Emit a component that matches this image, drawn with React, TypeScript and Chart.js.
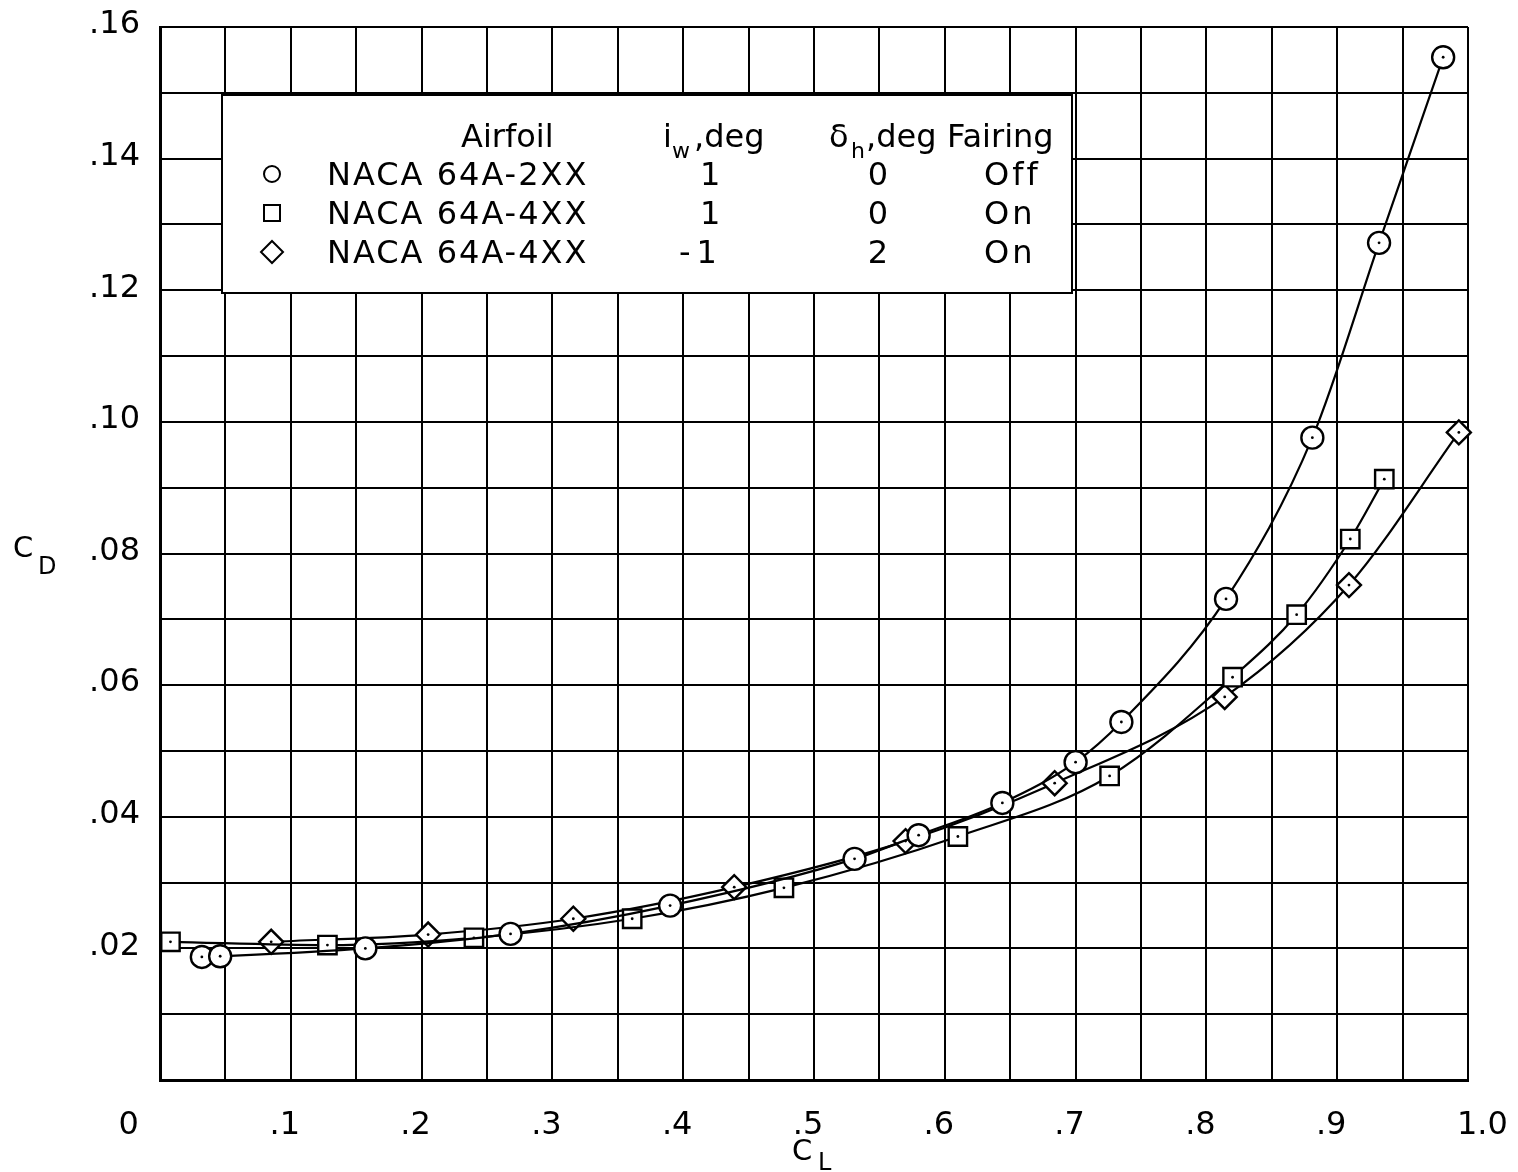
import React, { useEffect, useRef } from 'react';
import { Chart, registerables } from 'chart.js';

Chart.register(...registerables);

const FONT = '"DejaVu Sans", "Liberation Sans", sans-serif';

// NACA 64A-2XX, i_w = 1, delta_h = 0, fairing off (circles)
const circleCL = [0.032, 0.046, 0.157, 0.268, 0.390, 0.531, 0.580, 0.644, 0.700, 0.735, 0.815, 0.881, 0.932, 0.981];
const circleCD = [0.0187, 0.0188, 0.0200, 0.0222, 0.0265, 0.0336, 0.0372, 0.0421, 0.0483, 0.0544, 0.0731, 0.0976, 0.1272, 0.1554];

// NACA 64A-4XX, i_w = 1, delta_h = 0, fairing on (squares)
const squareCL = [0.008, 0.128, 0.240, 0.361, 0.477, 0.610, 0.726, 0.820, 0.869, 0.910, 0.936];
const squareCD = [0.0210, 0.0205, 0.0216, 0.0245, 0.0292, 0.0370, 0.0462, 0.0612, 0.0707, 0.0822, 0.0913];

// NACA 64A-4XX, i_w = -1, delta_h = 2, fairing on (diamonds)
const diamondCL = [0.085, 0.205, 0.316, 0.439, 0.570, 0.684, 0.814, 0.909, 0.993];
const diamondCD = [0.0210, 0.0221, 0.0245, 0.0293, 0.0363, 0.0451, 0.0582, 0.0752, 0.0984];

const legendHeader = ['Airfoil', 'i', 'w', ',deg', 'δ', 'h', ',deg', 'Fairing'];
const legendAirfoils = ['NACA 64A-2XX', 'NACA 64A-4XX', 'NACA 64A-4XX'];
const legendIw = ['1', '1', '-1'];
const legendDh = ['0', '0', '2'];
const legendFairing = ['Off', 'On', 'On'];
const legendMarkers = ['circle', 'rect', 'rectRot'];

const xTitle = ['C', 'L'];
const yTitle = ['C', 'D'];

const toPts = (xs: number[], ys: number[]) => xs.map((x, i) => ({ x, y: ys[i] }));

const overlayPlugin = {
  id: 'overlay',
  afterDraw(chart: any) {
    const ctx: CanvasRenderingContext2D = chart.ctx;
    ctx.save();
    // legend box
    const bx = 222, by = 95, bw = 850, bh = 198;
    ctx.fillStyle = '#fff';
    ctx.fillRect(bx, by, bw, bh);
    ctx.strokeStyle = '#000';
    ctx.lineWidth = 2;
    ctx.strokeRect(bx, by, bw, bh);

    ctx.fillStyle = '#000';
    ctx.textBaseline = 'alphabetic';
    ctx.textAlign = 'left';
    const big = `32px ${FONT}`;
    const small = `22px ${FONT}`;
    // header
    ctx.font = big;
    ctx.fillText(legendHeader[0], 461, 147);
    ctx.fillText(legendHeader[1], 663, 147);
    ctx.font = small;
    ctx.fillText(legendHeader[2], 672, 158);
    ctx.font = big;
    ctx.fillText(legendHeader[3], 694, 147);
    ctx.fillText(legendHeader[4], 829, 147);
    ctx.font = small;
    ctx.fillText(legendHeader[5], 851, 158);
    ctx.font = big;
    ctx.fillText(legendHeader[6], 866, 147);
    ctx.fillText(legendHeader[7], 947, 147);

    const baselines = [185, 224, 263];
    const centers = [174, 213, 252];
    for (let i = 0; i < 3; i++) {
      const b = baselines[i];
      ctx.font = big;
      (ctx as any).letterSpacing = '2px';
      ctx.textAlign = 'left';
      ctx.fillText(legendAirfoils[i], 327, b);
      (ctx as any).letterSpacing = legendIw[i].length > 1 ? '6px' : '0px';
      ctx.fillText(legendIw[i], legendIw[i].length > 1 ? 679 : 700, b);
      (ctx as any).letterSpacing = '0px';
      ctx.textAlign = 'center';
      ctx.fillText(legendDh[i], 878, b);
      ctx.textAlign = 'left';
      (ctx as any).letterSpacing = '3px';
      ctx.fillText(legendFairing[i], 984, b);
      (ctx as any).letterSpacing = '0px';

      // marker
      const cx = 272, cy = centers[i];
      ctx.lineWidth = 2;
      ctx.beginPath();
      if (legendMarkers[i] === 'circle') {
        ctx.arc(cx, cy, 8, 0, Math.PI * 2);
      } else if (legendMarkers[i] === 'rect') {
        ctx.rect(cx - 8, cy - 8, 16, 16);
      } else {
        ctx.moveTo(cx, cy - 11);
        ctx.lineTo(cx + 11, cy);
        ctx.lineTo(cx, cy + 11);
        ctx.lineTo(cx - 11, cy);
        ctx.closePath();
      }
      ctx.stroke();
    }

    // axis titles
    ctx.textAlign = 'left';
    ctx.font = `29px ${FONT}`;
    ctx.fillText(yTitle[0], 13, 557);
    ctx.font = `24px ${FONT}`;
    ctx.fillText(yTitle[1], 38, 574);
    ctx.font = `29px ${FONT}`;
    ctx.fillText(xTitle[0], 792, 1160);
    ctx.font = `24px ${FONT}`;
    ctx.fillText(xTitle[1], 818, 1170);
    ctx.restore();
  },
};

function lineDataset(label: string, xs: number[], ys: number[], style: string, radius: number) {
  return {
    label,
    data: toPts(xs, ys),
    showLine: true,
    borderColor: '#000',
    borderWidth: 2.2,
    pointStyle: style,
    pointRadius: radius,
    pointHoverRadius: radius,
    pointBorderWidth: 2.4,
    pointBackgroundColor: '#fff',
    pointBorderColor: '#000',
    cubicInterpolationMode: 'monotone',
    fill: false,
    clip: false,
    order: 1,
  };
}

function dotDataset(label: string, xs: number[], ys: number[]) {
  return {
    label,
    data: toPts(xs, ys),
    showLine: false,
    pointStyle: 'circle',
    pointRadius: 1.4,
    pointHoverRadius: 1.4,
    pointBorderWidth: 0,
    pointBackgroundColor: '#000',
    clip: false,
    order: 0,
  };
}

export default function App() {
  const ref = useRef<HTMLCanvasElement | null>(null);
  useEffect(() => {
    if (!ref.current) return;
    const chart = new Chart(ref.current, {
      type: 'scatter',
      data: {
        datasets: [
          dotDataset('c-dots', circleCL, circleCD),
          dotDataset('s-dots', squareCL, squareCD),
          dotDataset('d-dots', diamondCL, diamondCD),
          lineDataset('NACA 64A-2XX', circleCL, circleCD, 'circle', 11),
          lineDataset('NACA 64A-4XX (1, 0)', squareCL, squareCD, 'rect', 13),
          lineDataset('NACA 64A-4XX (-1, 2)', diamondCL, diamondCD, 'rectRot', 12),
        ] as any,
      },
      options: {
        animation: false,
        responsive: false,
        events: [],
        layout: { padding: { left: 0, right: 50, top: 27, bottom: 0 } },
        plugins: { legend: { display: false }, tooltip: { enabled: false } },
        scales: {
          x: {
            type: 'linear',
            min: 0,
            max: 1,
            afterFit: (s: any) => { s.height = 92; s.paddingLeft = 0; s.paddingRight = 0; },
            grid: { color: '#000', lineWidth: 2, drawTicks: false },
            border: { display: true, color: '#000', width: 3 },
            ticks: {
              stepSize: 0.05,
              autoSkip: false,
              maxRotation: 0,
              padding: 26,
              labelOffset: -6,
              color: '#000',
              font: { family: FONT, size: 32 },
              callback: (v: any) => {
                const n = Math.round(Number(v) * 100);
                if (n % 10 !== 0) return '';
                if (n === 0) return '0     ';
                if (n === 100) return '    1.0';
                return '.' + n / 10;
              },
            },
          },
          y: {
            type: 'linear',
            min: 0,
            max: 0.16,
            afterFit: (s: any) => { s.width = 160; s.paddingTop = 0; s.paddingBottom = 0; },
            grid: { color: '#000', lineWidth: 2, drawTicks: false },
            border: { display: true, color: '#000', width: 3 },
            ticks: {
              stepSize: 0.01,
              autoSkip: false,
              padding: 20,
              labelOffset: -2,
              color: '#000',
              font: { family: FONT, size: 32 },
              callback: (v: any) => {
                const n = Math.round(Number(v) * 100);
                if (n === 0 || n % 2 !== 0) return '';
                return '.' + String(n).padStart(2, '0');
              },
            },
          },
        },
      } as any,
      plugins: [overlayPlugin],
    });
    return () => chart.destroy();
  }, []);
  return (
    <div style={{ position: 'absolute', left: 0, top: 0, width: 1518, height: 1172, background: '#fff' }}>
      <canvas ref={ref} width={1518} height={1172} style={{ display: 'block' }} />
    </div>
  );
}
